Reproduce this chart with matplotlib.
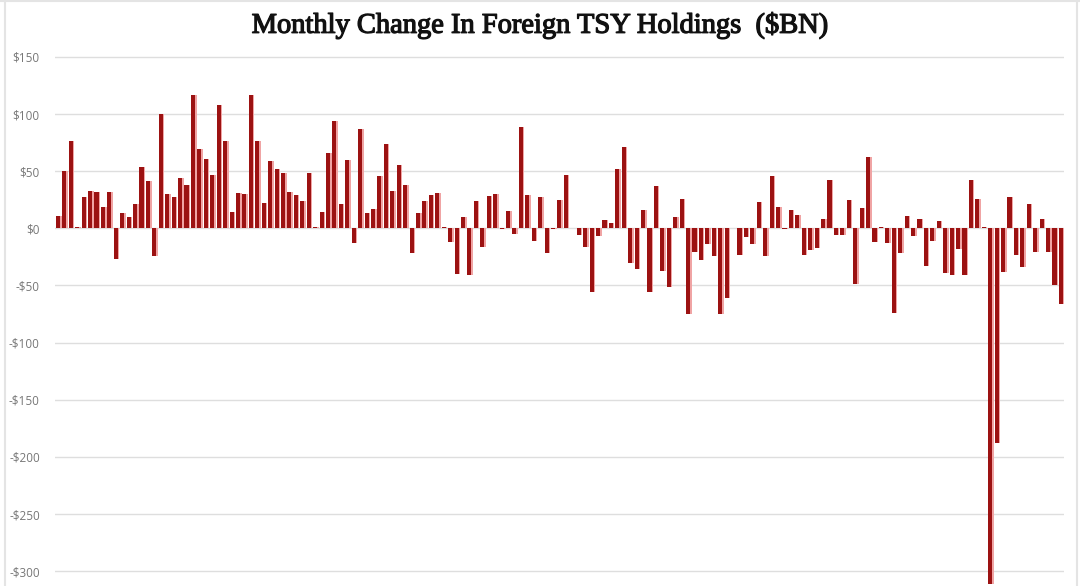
import numpy as np
import matplotlib.pyplot as plt
import matplotlib.patheffects as pe
from matplotlib.lines import Line2D

# ----------------------------------------------------------
# DATA  (monthly change, $BN)
# ----------------------------------------------------------
CHANGES = [
    11, 50, 76, 1, 27, 33, 32, 19, 32, -27,
    13, 10, 21, 54, 41, -24, 100, 30, 27, 44,
    38, 117, 69, 61, 47, 108, 76, 14, 31, 30,
    117, 76, 22, 59, 52, 48, 32, 29, 24, 48,
    1, 14, 66, 94, 21, 60, -13, 87, 13, 17,
    46, 74, 33, 55, 38, -22, 13, 24, 29, 31,
    1, -12, -40, 10, -41, 24, -16, 28, 30, -1,
    15, -5, 89, 29, -11, 27, -22, -1, 25, 47,
    0, -6, -16, -56, -7, 7, 5, 52, 71, -30,
    -36, 16, -56, 37, -37, -51, 10, 26, -75, -21,
    -28, -14, -24, -75, -61, 0, -23, -8, -14, 23,
    -24, 46, 19, -1, 16, 12, -23, -19, -17, 8,
    42, -6, -6, 25, -49, 18, 62, -12, 1, -13,
    -74, -22, 11, -7, 8, -33, -11, 6, -39, -41,
    -18, -41, 42, 26, 1, -311, -188, -38, 27, -23,
    -34, 21, -21, 8, -21, -50, -66,
]

Y_TICKS = [150, 100, 50, 0, -50, -100, -150, -200, -250, -300]
Y_LABELS = ["$150", "$100", "$50", "$0", "-$50", "-$100",
            "-$150", "-$200", "-$250", "-$300"]

TITLE = "Monthly Change In Foreign TSY Holdings  ($BN)"

# ----------------------------------------------------------
# VISUAL
# ----------------------------------------------------------
BAR_COLOR = "#9c1212"
SHADOW_COLOR = "#f0a4a4"
GRID_COLOR = "#dedede"
LABEL_COLOR = "#777777"
FRAME_COLOR = "#e4e4e4"

# ----------------------------------------------------------
def main():
    values = np.array(CHANGES, dtype=float)
    x = np.arange(len(values))

    fig = plt.figure(figsize=(10.8, 5.86), dpi=100)
    ax = fig.add_axes([0.051, 0.0, 0.934, 0.904])

    # soft shadow to the right of each bar, then the bar itself
    ax.bar(x + 0.24, values, width=0.62, color=SHADOW_COLOR, zorder=2, linewidth=0)
    ax.bar(x, values, width=0.64, color=BAR_COLOR, zorder=3, linewidth=0)

    ax.set_xlim(-0.45, len(values) - 0.55)
    ax.set_ylim(-313, 150.6)

    ax.set_yticks(Y_TICKS)
    ax.set_yticklabels(Y_LABELS)
    ax.set_xticks([])
    ax.yaxis.grid(True, color=GRID_COLOR, linewidth=1.0, zorder=0)
    ax.set_axisbelow(True)

    for s in ax.spines.values():
        s.set_visible(False)

    ax.tick_params(axis="y", length=0, pad=11, labelsize=8.5,
                   labelcolor=LABEL_COLOR)
    for lbl in ax.get_yticklabels():
        lbl.set_fontfamily("Open Sans")

    # heavier-looking serif title (thin stroke thickens the glyphs)
    fig.text(0.5, 0.956, TITLE, ha="center", va="center",
             fontsize=20.5, family="Liberation Serif", color="#111111",
             path_effects=[pe.withStroke(linewidth=0.9, foreground="#111111")])

    # faint frame of the original screenshot
    fig.add_artist(Line2D([0.005, 0.005], [0, 1], color=FRAME_COLOR, lw=1.5))
    fig.add_artist(Line2D([0.997, 0.997], [0, 1], color=FRAME_COLOR, lw=1.5))
    fig.add_artist(Line2D([0, 1], [0.998, 0.998], color=FRAME_COLOR, lw=1.5))

    fig.savefig("out.png", dpi=100)
    plt.close(fig)


if __name__ == "__main__":
    main()
